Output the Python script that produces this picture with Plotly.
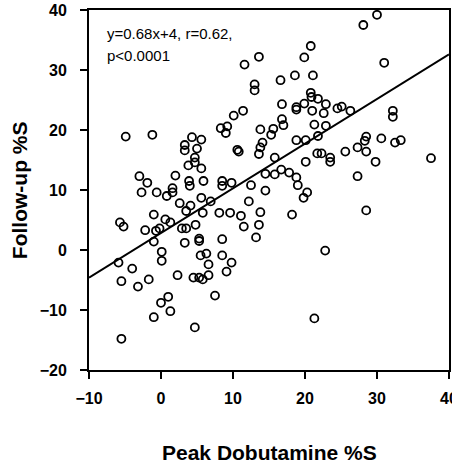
import plotly.graph_objects as go


# peak dobutamine %S (x) vs follow-up %S (y)
peak_dobutamine = [
    11.6, 13.0, 13.0, 11.4, 10.1, 8.3, 9.2, 9.0, -4.9, -1.2, 4.3, 5.6, 3.3, 3.3, 5.0, 4.7,
    3.8, 4.7, 5.6, 10.6, 10.8, -3.0, -1.9, 2.0, 1.6, 3.9, 4.0, 5.9, 8.5, 8.5, 9.8, 12.5,
    30.0, 28.1, 13.6, 20.8, 19.9, 31.0, 16.6, 18.6, 21.1, 20.8, 20.9, 21.8, 22.9, 16.8,
    18.8, 18.8, 19.9, 21.0, 22.6, 24.5, 25.1, 26.3, 32.2, 32.2, 16.8, 17.0, 13.8, 15.6,
    15.3, 21.3, 22.9, 14.1, 13.8, 13.6, 18.8, 20.1, 21.8, 15.8, 21.7, 22.3, 23.5, 23.5,
    25.6, 27.3, 28.5, 28.3, 28.5, 30.6, 32.5, 33.3, 29.8, 37.5, 20.1, 14.5, 15.8, 16.7,
    17.8, 18.8, 19.0, 20.3, 14.5, 27.3,
    -2.7, -0.6, 0.8, 1.6, 2.6, 4.1, 3.5, 5.6, 6.9, 5.8, 8.1, 9.6, 11.1, 12.2, 13.8, 11.5,
    13.6, 13.2, -5.7, -5.2, -1.0, 0.6, 1.3, -2.2, -0.7, -0.2, -1.0, 2.9, 3.5, 4.8, 3.3,
    5.3, 5.3, 8.5, 0.1, 0.1, -5.9, -4.0, -5.5, -3.2, -1.7, 2.3, 5.5, 6.3, 6.6, 8.5, 9.8,
    9.1, 4.5, 5.3, 5.8, 6.6, 7.5, 0.0, 1.0, 1.3, -1.0, 4.7, -5.5,
    19.8, 18.2, 28.5, 22.8, 21.3,
]
follow_up = [
    30.9, 27.6, 26.6, 23.2, 22.4, 20.3, 20.6, 19.5, 18.9, 19.2, 18.8, 18.4, 17.5, 16.6, 16.9, 15.4,
    14.1, 14.6, 13.6, 16.7, 16.4, 12.3, 11.2, 12.4, 10.3, 11.5, 10.7, 11.5, 11.5, 10.7, 11.2, 10.8,
    39.2, 37.5, 32.2, 34.0, 32.1, 31.2, 28.3, 29.1, 29.1, 26.2, 25.5, 25.2, 24.3, 24.3,
    23.8, 23.4, 24.4, 23.2, 22.8, 23.6, 23.9, 23.2, 23.2, 22.2, 21.8, 20.8, 20.1, 20.2,
    19.2, 20.9, 20.7, 17.9, 17.1, 16.0, 18.3, 18.3, 19.0, 15.4, 16.1, 16.1, 15.4, 14.7,
    16.4, 17.1, 18.9, 18.2, 16.4, 18.6, 17.9, 18.3, 14.7, 15.3, 14.7, 12.7, 12.6, 13.4,
    12.9, 12.1, 10.8, 9.6, 9.9, 12.3,
    9.6, 9.6, 9.0, 9.6, 7.8, 7.4, 6.5, 8.7, 8.1, 6.2, 6.2, 6.2, 5.7, 8.1, 6.3, 3.9,
    4.2, 2.1, 4.6, 3.9, 5.9, 5.1, 4.6, 3.3, 3.2, 3.6, 1.4, 3.6, 3.6, 4.2, 1.2,
    1.9, 1.5, 1.8, -0.3, -1.8, -2.1, -3.1, -5.2, -6.1, -4.9, -4.2, -0.9, -0.6, -2.4, -0.9, -2.1,
    -3.6, -4.6, -4.6, -4.9, -4.2, -7.6, -8.8, -7.8, -10.2, -11.2, -12.9, -14.8,
    8.7, 5.9, 6.6, -0.1, -11.4,
]

# fitted line as drawn in the figure
fit_slope = 0.744
fit_intercept = 2.84
fit_x = [-10, 40]

x_ticks = [-10, 0, 10, 20, 30, 40]
y_ticks = [-20, -10, 0, 10, 20, 30, 40]

stats_line1 = "y=0.68x+4, r=0.62,"
stats_line2 = "p<0.0001"


def create_figure():
    fig = go.Figure().update_layout(template="simple_white")
    fig.update_layout(width=452, height=465, showlegend=False)
    return fig


def plot(fig):
    fig.add_trace(go.Scatter(x=peak_dobutamine, y=follow_up, mode="markers",
                             marker=dict(symbol="circle-open", size=8, color="black",
                                         line=dict(width=1.8, color="black"))))
    fig.add_trace(go.Scatter(x=fit_x, y=[fit_slope * v + fit_intercept for v in fit_x],
                             mode="lines", line=dict(color="black", width=2)))


def touch_up(fig):
    fig.update_layout(margin=dict(l=89, r=3, t=10, b=95),
                      paper_bgcolor="white", plot_bgcolor="white",
                      font=dict(family="Liberation Sans, Arial", color="black"))

    axis_style = dict(showline=True, linewidth=2, linecolor="black", mirror=True,
                      ticks="outside", ticklen=7, tickwidth=1.5, tickcolor="black",
                      showgrid=False, zeroline=False, automargin=False,
                      ticklabeloverflow="allow",
                      tickfont=dict(size=16, weight="bold", color="black"))
    fig.update_xaxes(range=[-10, 40], tickvals=x_ticks, ticklabelstandoff=6, **axis_style)
    fig.update_yaxes(range=[-20, 40], tickvals=y_ticks, ticklabelstandoff=10, **axis_style)

    fig.add_annotation(xref="paper", yref="paper", x=-0.194, y=0.5,
                       text="Follow-up %S", textangle=-90, showarrow=False,
                       xanchor="center", yanchor="middle",
                       font=dict(size=21, weight="bold"))
    fig.add_annotation(xref="paper", yref="paper", x=0.5, y=-0.228,
                       text="Peak Dobutamine %S", showarrow=False,
                       xanchor="center", yanchor="middle",
                       font=dict(size=21, weight="bold"))

    fig.add_annotation(xref="paper", yref="paper", x=(105 - 89) / 360, y=(370 - 33) / 360,
                       text=stats_line1, showarrow=False, xanchor="left", yanchor="middle",
                       font=dict(size=15))
    fig.add_annotation(xref="paper", yref="paper", x=(105 - 89) / 360, y=(370 - 55) / 360,
                       text=stats_line2, showarrow=False, xanchor="left", yanchor="middle",
                       font=dict(size=15))


def main():
    fig = create_figure()
    plot(fig)
    touch_up(fig)
    # the page body has an 8px default margin; drop it so the figure fills the window
    fig.write_html("out.html", config={"displayModeBar": False},
                   post_script="document.body.style.margin = '0';")


main()
